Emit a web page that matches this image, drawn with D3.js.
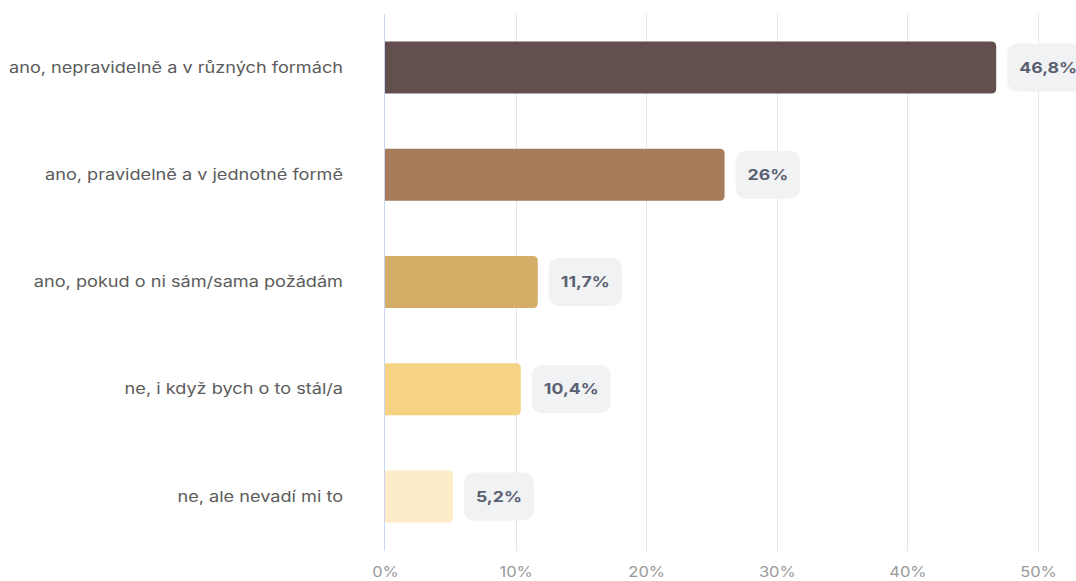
<!DOCTYPE html>
<html>
<head>
<meta charset="utf-8">
<script src="https://cdn.jsdelivr.net/npm/d3@7"></script>
<style>
  html, body { margin: 0; padding: 0; background: #ffffff; }
  svg { display: block; font-family: Inter, "Noto Sans", sans-serif; }
</style>
</head>
<body>
<svg id="chart" width="1076" height="581"></svg>
<script>
// Survey answers and their shares (%)
const categories = [
  "ano, nepravidelně a v různých formách",
  "ano, pravidelně a v jednotné formě",
  "ano, pokud o ni sám/sama požádám",
  "ne, i když bych o to stál/a",
  "ne, ale nevadí mi to"
];
const values = [46.8, 26, 11.7, 10.4, 5.2];
const valueLabels = ["46,8%", "26%", "11,7%", "10,4%", "5,2%"];
const barColors = ["#634f4d", "#a67c5b", "#d4ae66", "#f5d383", "#fdecc8"];
const tickValues = [0, 10, 20, 30, 40, 50];
const tickLabels = ["0%", "10%", "20%", "30%", "40%", "50%"];

const svg = d3.select("#chart");
const plotLeft = 385, plotRight = 1038, plotTop = 14, plotBottom = 550;
const stretch = 1.18;      // wide text rendering
const labelStretch = 1.21;

const x = d3.scaleLinear().domain([0, 50]).range([plotLeft, plotRight]);
const y = d3.scaleBand().domain(categories).range([plotTop, plotBottom])
  .paddingInner(0.515).paddingOuter(0.2575);

// vertical grid
svg.append("g").selectAll("line")
  .data(tickValues.filter(d => d > 0))
  .join("line")
  .attr("x1", d => Math.round(x(d)) + 0.5).attr("x2", d => Math.round(x(d)) + 0.5)
  .attr("y1", plotTop).attr("y2", plotBottom + 1)
  .attr("stroke", "#e6e6e6").attr("stroke-width", 1);

// zero baseline
svg.append("line")
  .attr("x1", x(0) - 0.5).attr("x2", x(0) - 0.5)
  .attr("y1", plotTop).attr("y2", plotBottom + 1)
  .attr("stroke", "#c9d5f2").attr("stroke-width", 1);

// bottom axis tick labels
const xAxis = d3.axisBottom(x).tickValues(tickValues)
  .tickFormat((d, i) => tickLabels[i]).tickSize(0).tickPadding(0);
const ax = svg.append("g").attr("transform", "translate(0, 567)").call(xAxis);
ax.select(".domain").remove();
ax.selectAll("text")
  .attr("fill", "#9a9a9a").attr("font-size", 14)
  .attr("font-family", "Inter, 'Noto Sans', sans-serif")
  .attr("transform", `scale(${stretch},1)`);

// bars with rounded right ends
const r = 5;
function barPath(d, i) {
  const x0 = x(0), x1 = x(d), y0 = y(categories[i]), h = y.bandwidth();
  return `M${x0},${y0} H${x1 - r} Q${x1},${y0} ${x1},${y0 + r} V${y0 + h - r} Q${x1},${y0 + h} ${x1 - r},${y0 + h} H${x0} Z`;
}
svg.append("g").selectAll("path")
  .data(values)
  .join("path")
  .attr("d", barPath)
  .attr("fill", (d, i) => barColors[i]);

// category labels
svg.append("g").selectAll("g")
  .data(categories)
  .join("g")
  .attr("transform", d => `translate(343, ${y(d) + y.bandwidth() / 2}) scale(${labelStretch},1)`)
  .append("text")
  .attr("dy", "0.35em")
  .attr("text-anchor", "end")
  .attr("font-size", 15)
  .attr("fill", "#5c5c5c")
  .text(d => d);

// value pills
const pills = svg.append("g").selectAll("g")
  .data(values)
  .join("g");
pills.each(function(d, i) {
  const g = d3.select(this);
  const cy = y(categories[i]) + y.bandwidth() / 2;
  const px = x(d) + 11;
  const tg = g.append("g");
  const t = tg.append("text")
    .attr("dy", "0.35em")
    .attr("text-anchor", "middle")
    .attr("font-size", 15).attr("font-weight", 700)
    .attr("fill", "#5a6072")
    .text(valueLabels[i]);
  const w = t.node().getComputedTextLength() * stretch;
  tg.attr("transform", `translate(${px + 12 + w / 2}, ${cy}) scale(${stretch},1)`);
  g.insert("rect", "g")
    .attr("x", px).attr("y", cy - 24)
    .attr("width", w + 24).attr("height", 48)
    .attr("rx", 10).attr("fill", "#f1f2f3");
});
</script>
</body>
</html>
